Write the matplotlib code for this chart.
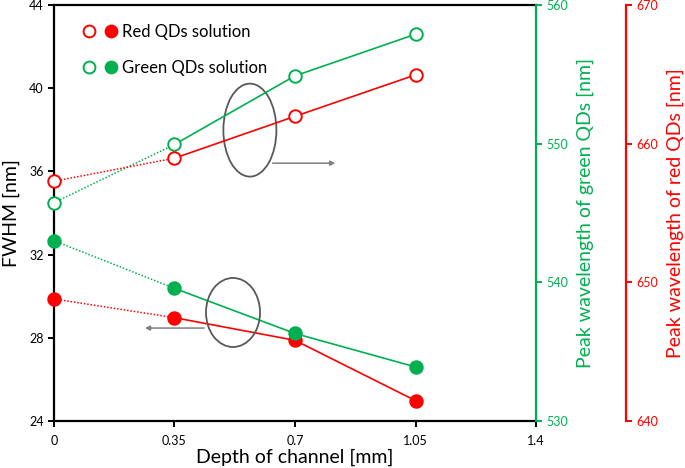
import matplotlib.pyplot as plt
import matplotlib
from matplotlib.patches import Ellipse
from matplotlib.legend_handler import HandlerTuple
from matplotlib.lines import Line2D

matplotlib.rcParams['font.family'] = ['Lato', 'DejaVu Sans']

depth = [0, 0.35, 0.7, 1.05]

# FWHM (left axis, filled markers)
fwhm_red = [29.87, 28.97, 27.88, 24.98]
fwhm_green = [32.67, 30.38, 28.21, 26.60]

# peak wavelengths (open markers)
peak_green = [545.75, 549.95, 554.9, 557.9]
peak_red = [657.3, 658.96, 661.98, 664.97]

RED = '#FF0000'
GREEN = '#00B050'

fig = plt.figure(figsize=(6.85, 4.68), dpi=100)
ax = fig.add_axes([0.0788, 0.1004, 0.7037, 0.8886])
axg = ax.twinx()
axr = ax.twinx()
axr.spines['right'].set_position(('axes', 1.187))

mk = dict(markersize=9)


def draw(a, y, color, filled):
    face = color if filled else 'white'
    a.plot(depth[:2], y[:2], color=color, lw=1.1, ls=(0, (1, 1.2)), zorder=2)
    a.plot(depth[1:], y[1:], color=color, lw=1.2, zorder=2)
    a.plot(depth, y, ls='none', marker='o', mfc=face, mec=color, mew=1.4,
           zorder=3, clip_on=False, **mk)


draw(ax, fwhm_red, RED, True)
draw(ax, fwhm_green, GREEN, True)
draw(axg, peak_green, GREEN, False)
draw(axr, peak_red, RED, False)

ax.set_xlim(0, 1.4)
ax.set_ylim(24, 44)
ax.set_xticks([0, 0.35, 0.7, 1.05, 1.4])
ax.set_xticklabels(['0', '0.35', '0.7', '1.05', '1.4'])
ax.set_yticks([24, 28, 32, 36, 40, 44])
axg.set_ylim(530, 560)
axg.set_yticks([530, 540, 550, 560])
axr.set_ylim(640, 670)
axr.set_yticks([640, 650, 660, 670])

for s in ['left', 'bottom', 'top']:
    ax.spines[s].set_linewidth(1.6)
ax.spines['right'].set_visible(False)
for a in (axg, axr):
    for s in ['left', 'bottom', 'top']:
        a.spines[s].set_visible(False)
axg.spines['right'].set_color(GREEN)
axg.spines['right'].set_linewidth(1.6)
axr.spines['right'].set_color(RED)
axr.spines['right'].set_linewidth(1.6)

ax.tick_params(width=1.4, length=4, labelsize=9, direction='out')
ax.tick_params(axis='x', pad=6)
axg.tick_params(width=1.4, length=4, labelsize=9, colors=GREEN)
axr.tick_params(width=1.4, length=4, labelsize=9, colors=RED)

ax.set_xlabel('Depth of channel [mm]', fontsize=14, labelpad=1)
ax.set_ylabel('FWHM [nm]', fontsize=14, labelpad=6)
axg.set_ylabel('Peak wavelength of green QDs [nm]', fontsize=14, color=GREEN, labelpad=6)
axr.set_ylabel('Peak wavelength of red QDs [nm]', fontsize=14, color=RED, labelpad=6)

# ellipses and arrows
ax.add_patch(Ellipse((0.569, 37.99), 0.154, 4.47, fill=False, ec='#595959', lw=1.3, zorder=4))
ax.annotate('', xy=(0.825, 36.4), xytext=(0.627, 36.4),
            arrowprops=dict(arrowstyle='-|>', color='#7f7f7f', lw=1.1, mutation_scale=7))
ax.add_patch(Ellipse((0.52, 29.22), 0.157, 3.32, fill=False, ec='#595959', lw=1.3, zorder=4))
ax.annotate('', xy=(0.256, 28.47), xytext=(0.444, 28.47),
            arrowprops=dict(arrowstyle='-|>', color='#7f7f7f', lw=1.1, mutation_scale=7))

# legend
def h(color, filled):
    return Line2D([], [], ls='none', marker='o', mfc=color if filled else 'white',
                  mec=color, mew=1.4, markersize=8.5)


handles = [(h(RED, False), h(RED, True)), (h(GREEN, False), h(GREEN, True))]
ax.legend(handles, ['Red QDs solution', 'Green QDs solution'],
          handler_map={tuple: HandlerTuple(ndivide=None, pad=0.6)},
          loc='upper left', bbox_to_anchor=(0.03, 0.99), frameon=False,
          fontsize=12, labelspacing=1.2, handlelength=2.0, handletextpad=0.3)

fig.savefig('out.png', dpi=100)
